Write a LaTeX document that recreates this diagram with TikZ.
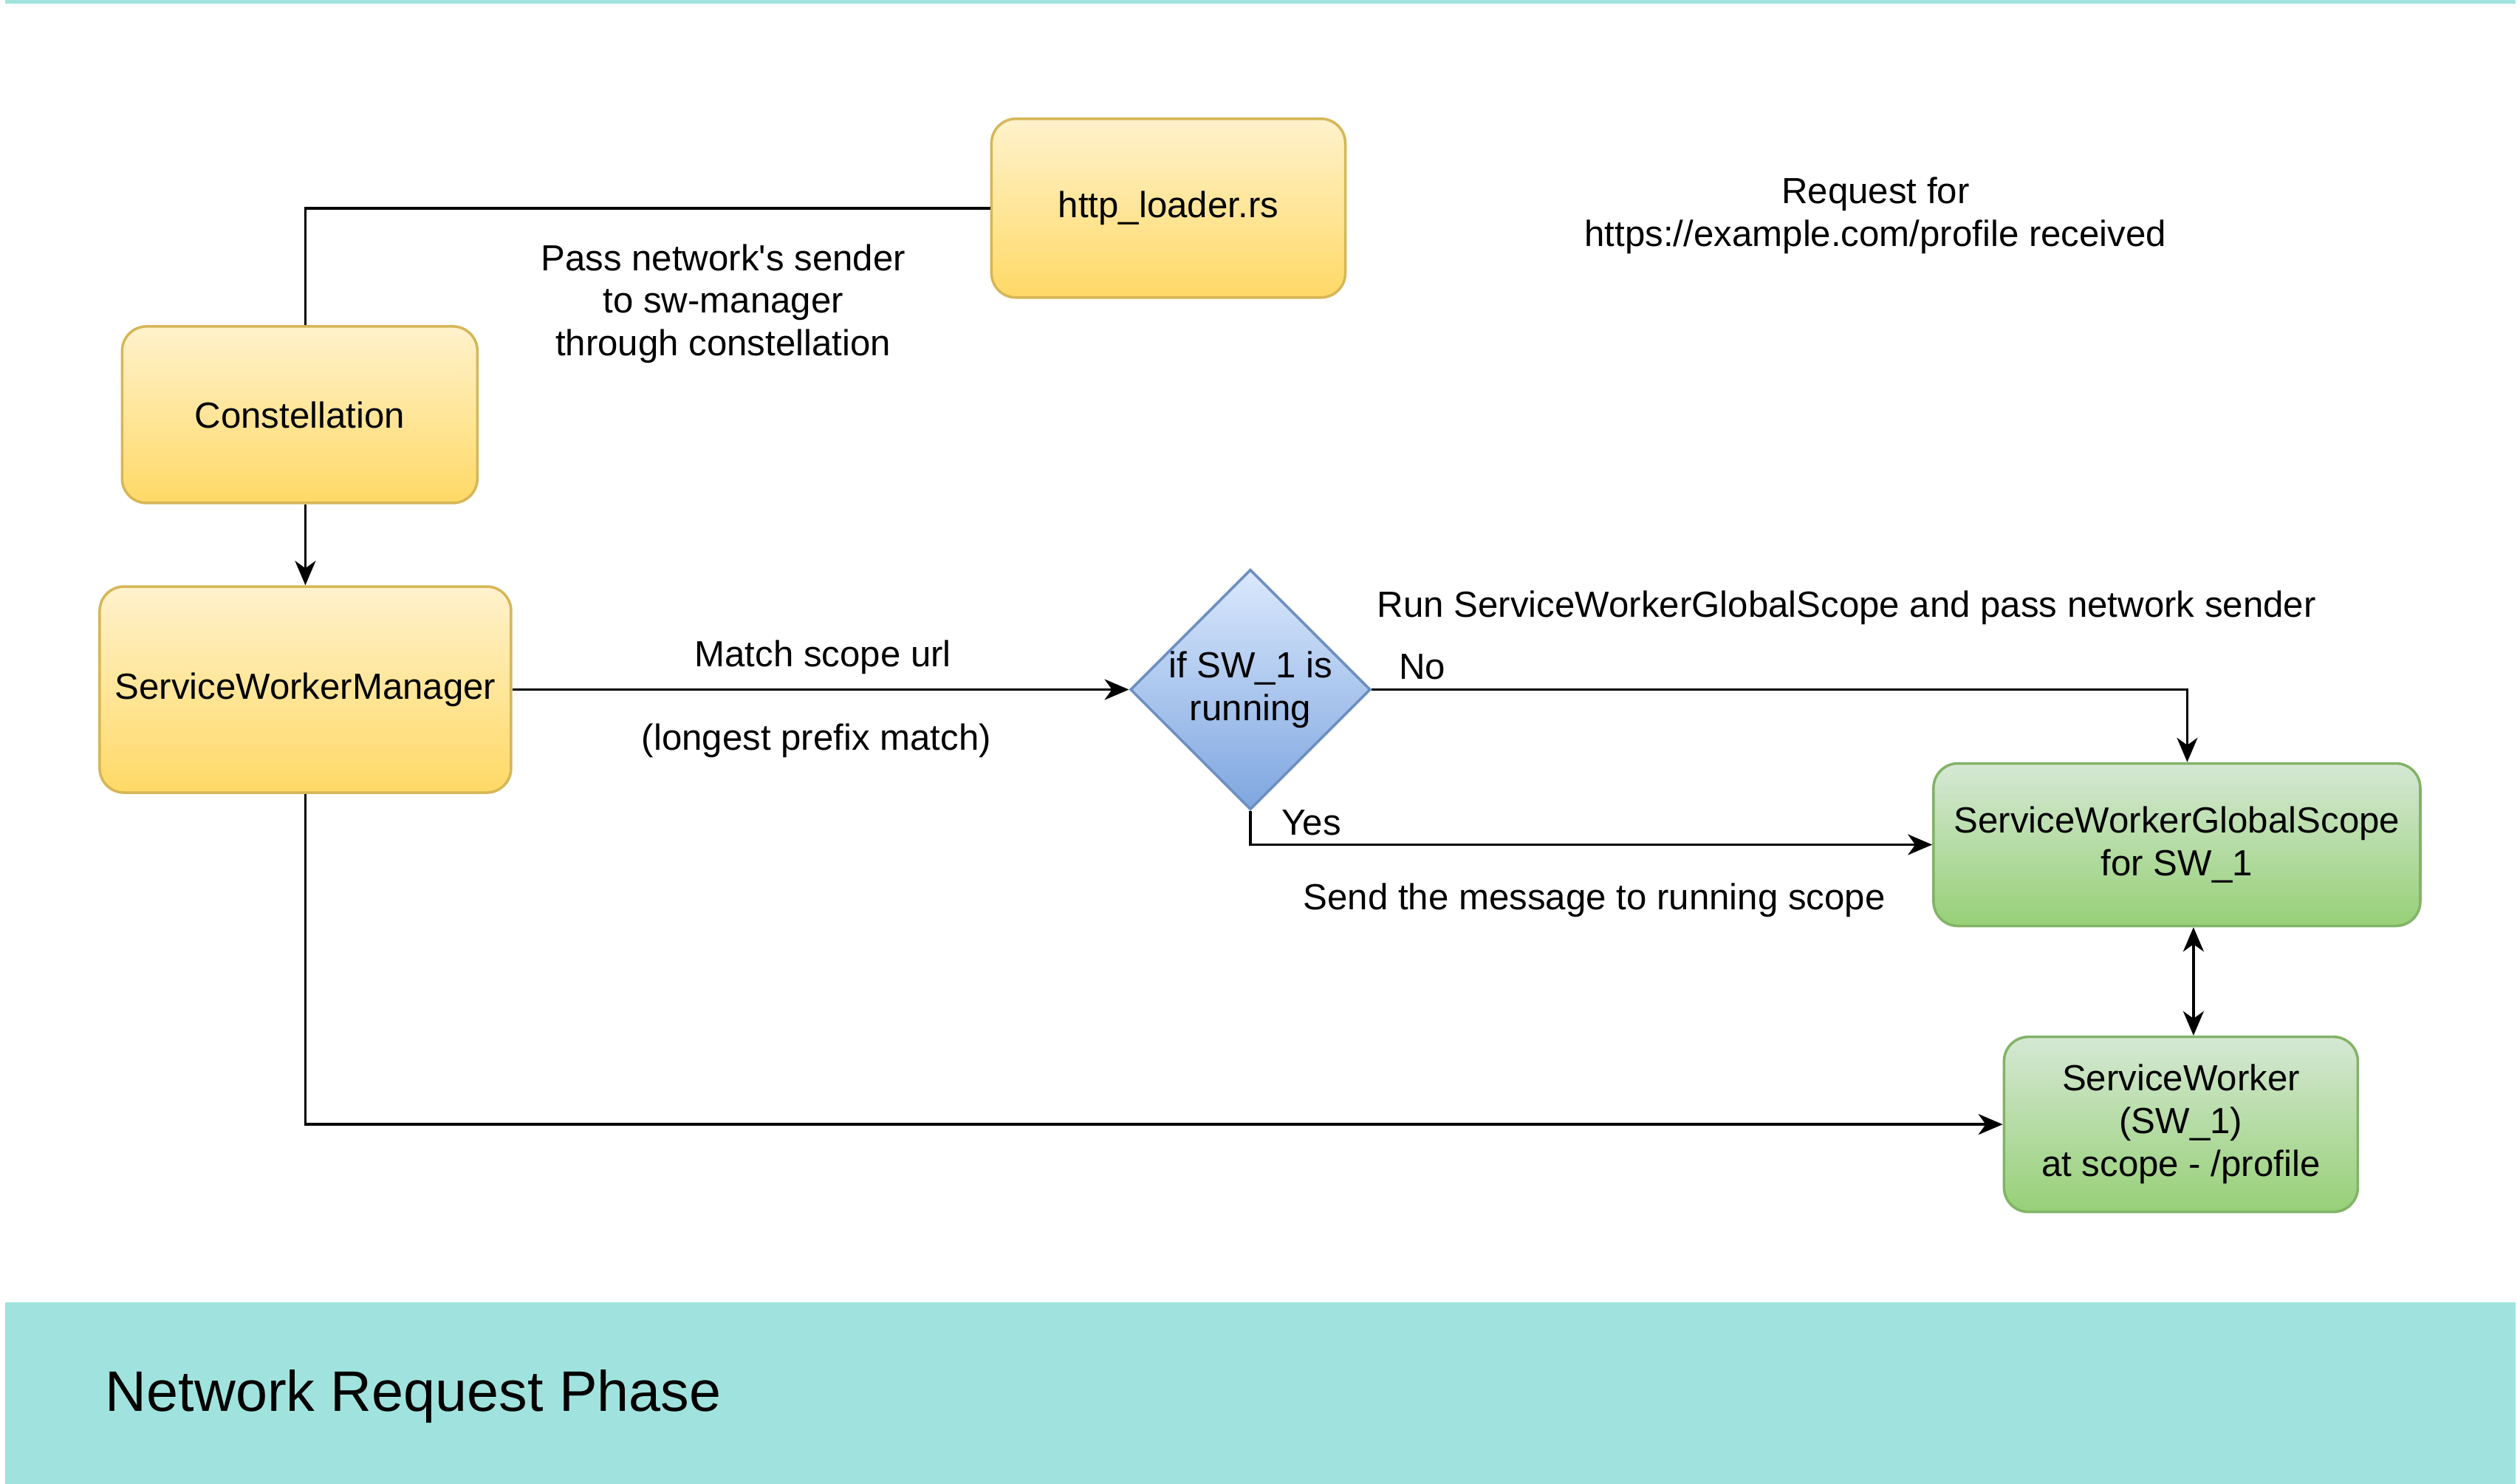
\documentclass[tikz,border=0pt]{standalone}
\usepackage{fontspec}
\setmainfont{Liberation Sans}[Ligatures=TeXOff]
\usepackage{xcolor}
\usepackage{tikz}
\usetikzlibrary{shapes.geometric,arrows.meta,positioning}

\definecolor{yelTop}{HTML}{FFF2CC}
\definecolor{yelBot}{HTML}{FFD966}
\definecolor{yelLine}{HTML}{D6B656}
\definecolor{grnTop}{HTML}{D5E8D4}
\definecolor{grnBot}{HTML}{97D077}
\definecolor{grnLine}{HTML}{82B366}
\definecolor{bluTop}{HTML}{DAE8FC}
\definecolor{bluBot}{HTML}{7EA6E0}
\definecolor{bluLine}{HTML}{6C8EBF}
\definecolor{phaseBand}{HTML}{A0E3DE}

\begin{document}
\begin{tikzpicture}[
    x=0.02176cm, y=-0.02176cm,
    every node/.style={font=\fontsize{14}{16.5}\selectfont, align=center},
    yellowbox/.style={rectangle, rounded corners=0.33cm, draw=yelLine, line width=1pt, top color=yelTop, bottom color=yelBot},
    greenbox/.style={rectangle, rounded corners=0.33cm, draw=grnLine, line width=1pt, top color=grnTop, bottom color=grnBot},
    decision/.style={diamond, aspect=1, inner sep=0pt, minimum width=3.18cm, minimum height=3.18cm, draw=bluLine, line width=1pt, top color=bluTop, bottom color=bluBot},
    note/.style={inner sep=1pt},
    line/.style={line width=1pt},
    arrow/.style={line width=1pt, -{Stealth[length=0.33cm, width=0.28cm, inset=0.1cm]}},
    dblarrow/.style={line width=1pt, {Stealth[length=0.33cm, width=0.28cm, inset=0.1cm]}-{Stealth[length=0.33cm, width=0.28cm, inset=0.1cm]}}
]
\useasboundingbox (0,0) rectangle (1568,923);

% Frame
\draw[phaseBand, line width=1.5pt] (3,1) -- (1565,1);
\fill[phaseBand] (3,810) rectangle (1565,923);
\node[anchor=base west, font=\fontsize{22}{26}\selectfont] (phase) at (60,878) {Network Request Phase};

% Loader and constellation
\node[yellowbox, minimum width=4.79cm, minimum height=2.42cm] (loader) at (727,129.5) {http\_loader.rs};
\node[yellowbox, minimum width=4.81cm, minimum height=2.39cm] (const) at (186.5,258) {Constellation};

% Manager
\node[yellowbox, minimum width=5.57cm, minimum height=2.79cm, inner sep=1pt] (manager) at (190,429) {ServiceWorkerManager};

% Decision
\node[decision] (running) at (778,429) {if SW\_1 is\\running};

% Scope and worker
\node[greenbox, minimum width=6.59cm, minimum height=2.20cm] (scope) at (1354.5,525.5) {ServiceWorkerGlobalScope\\for SW\_1};
\node[greenbox, minimum width=4.79cm, minimum height=2.37cm] (worker) at (1357,699.5) {ServiceWorker\\(SW\_1)\\at scope - /profile};

% Texts
\node[note] (request) at (1167,134) {Request for\\https://example.com/profile received};
\node[note] (passtxt) at (450,189) {Pass network's sender\\ to sw-manager\\through constellation};
\node[note] (matchtxt) at (512,409) {Match scope url};
\node[note] (prefixtxt) at (508,461) {(longest prefix match)};
\node[note] (runtxt) at (1149,378) {Run ServiceWorkerGlobalScope and pass network sender};
\node[note] (notxt) at (885,415) {No};
\node[note] (yestxt) at (816,512) {Yes};
\node[note] (sendtxt) at (992,560) {Send the message to running scope};

% Arrows
\draw[line] (loader.west) -| (manager.north |- const.north);
\draw[arrow] (manager.north |- const.south) -- (manager.north);
\draw[arrow] (manager.east) -- (running.west);
\draw[arrow] (running.east) -| ([xshift=0.14cm]scope.north);
\draw[arrow] (running.south) |- (scope.west);
\draw[dblarrow] ([xshift=0.17cm]worker.north |- scope.south) -- ([xshift=0.17cm]worker.north);
\draw[arrow] (manager.south) |- (worker.west);

\end{tikzpicture}
\end{document}
